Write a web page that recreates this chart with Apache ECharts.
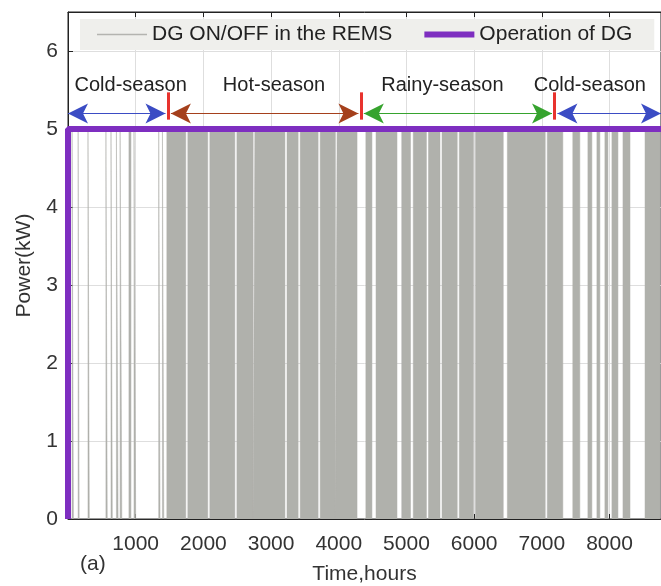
<!DOCTYPE html>
<html>
<head>
<meta charset="utf-8">
<script src="https://cdn.jsdelivr.net/npm/echarts@6/dist/echarts.min.js"></script>
<style>
  html, body { margin: 0; padding: 0; background: #fff; }
  #chart { width: 661px; height: 586px; }
</style>
</head>
<body>
<div id="chart"></div>
<script>
// DG ON periods (hours)
const dgOnIntervals = [
  [60, 80], [150, 165], [295, 315], [560, 580], [635, 655], [715, 740], [770, 795],
  [900, 930], [975, 1000], [1340, 1360], [1395, 1415],
  [1460, 1740], [1770, 2065], [2095, 2465], [2495, 2735], [2760, 3205], [3235, 3400],
  [3430, 3695], [3725, 3950], [3975, 4270],
  [4400, 4490], [4550, 4860], [4930, 5060], [5100, 5295], [5325, 5495], [5525, 5750],
  [5780, 5990], [6020, 6430], [6490, 7050], [7080, 7310],
  [7457, 7561], [7680, 7739], [7813, 7857], [7931, 7976], [8035, 8124], [8198, 8302],
  [8524, 8746]
];
const dgPower = 5;
const operationLine = [[0, 0], [0, 5], [8760, 5]];

const seasonNames = ['Cold-season', 'Hot-season', 'Rainy-season', 'Cold-season'];
const seasonLabelX = [926, 3043, 5531, 7709];
const seasonBounds = [0, 1480, 4330, 7190, 8760];
const seasonColors = ['#3b4cc4', '#a5401c', '#36a32e', '#3b4cc4'];

// build the on/off trace from the intervals
const onOffData = [[0, 0]];
dgOnIntervals.forEach(([s, e]) => {
  onOffData.push([s, 0], [s, dgPower], [e, dgPower], [e, 0]);
});
onOffData.push([8760, 0]);

const arrowY = 5.2;
const arrows = [];
for (let i = 0; i < 4; i++) {
  const a = seasonBounds[i] + (i === 0 ? 0 : 40);
  const b = seasonBounds[i + 1] - (i === 3 ? 0 : 40);
  arrows.push([
    { coord: [a, arrowY], lineStyle: { color: seasonColors[i], width: 1.2, type: 'solid' } },
    { coord: [b, arrowY] }
  ]);
}
const markers = seasonBounds.slice(1, 4).map(x => [
  { coord: [x, 5.12], symbol: 'none', lineStyle: { color: '#e8332e', width: 3, type: 'solid' } },
  { coord: [x, 5.47], symbol: 'none' }
]);

const font = 'Liberation Sans, Arial, sans-serif';
const chart = echarts.init(document.getElementById('chart'));

chart.setOption({
  animation: false,
  textStyle: { fontFamily: font },
  grid: {
    left: 68, right: 0, top: 12, bottom: 67,
    outerBoundsMode: 'none',
    show: true, borderColor: '#222', borderWidth: 1
  },
  legend: {
    data: [
      { name: 'DG ON/OFF in the REMS', icon: 'path://M0,0H50V1.5H0Z', symbolKeepAspect: true, itemStyle: { color: '#b4b4b0' } },
      { name: 'Operation of DG', icon: 'rect', itemStyle: { color: '#7e2ec0' } }
    ],
    left: 80,
    top: 19,
    padding: [5, 22, 5, 17],
    itemGap: 32,
    itemWidth: 50,
    itemHeight: 6,
    backgroundColor: '#efefec',
    textStyle: { fontSize: 21, color: '#222', fontFamily: font }
  },
  xAxis: [
    {
      type: 'value',
      min: 0,
      max: 8760,
      interval: 1000,
      name: 'Time,hours',
      nameLocation: 'middle',
      nameGap: 45,
      nameTextStyle: { fontSize: 21, color: '#333' },
      axisLine: { show: true, lineStyle: { color: '#222', width: 1 } },
      axisTick: { show: true, inside: true, length: 5, lineStyle: { color: '#222' } },
      axisLabel: { fontSize: 21, color: '#333', margin: 15, showMinLabel: false, showMaxLabel: false, formatter: v => String(v) },
      splitLine: { show: true, lineStyle: { color: '#dedede', width: 1 } }
    },
    {
      type: 'value',
      position: 'top',
      min: 0,
      max: 8760,
      interval: 1000,
      axisLine: { show: true, lineStyle: { color: '#222' } },
      axisTick: { show: true, inside: true, length: 5, lineStyle: { color: '#222' } },
      axisLabel: { show: false },
      splitLine: { show: false }
    }
  ],
  yAxis: {
    type: 'value',
    min: 0,
    max: 6.5,
    interval: 1,
    name: 'Power(kW)',
    nameLocation: 'middle',
    nameGap: 33,
    nameTextStyle: { fontSize: 21, color: '#333' },
    axisLine: { show: true, lineStyle: { color: '#222', width: 1 } },
    axisTick: { show: true, inside: true, length: 5, lineStyle: { color: '#222' } },
    axisLabel: { fontSize: 21, color: '#333', margin: 10, showMaxLabel: false },
    splitLine: { show: true, lineStyle: { color: '#dedede', width: 1 } }
  },
  series: [
    {
      name: 'DG ON/OFF in the REMS',
      type: 'line',
      data: onOffData,
      showSymbol: false,
      symbol: 'none',
      lineStyle: { color: '#b0b1ac', width: 0.5 },
      itemStyle: { color: '#b0b1ac' },
      areaStyle: { color: '#b0b1ac', opacity: 1 },
      z: 2
    },
    {
      name: 'Operation of DG',
      type: 'line',
      data: operationLine,
      showSymbol: false,
      symbol: 'none',
      clip: false,
      lineStyle: { color: '#7e2ec0', width: 6 },
      itemStyle: { color: '#7e2ec0' },
      z: 5,
      markLine: {
        silent: true,
        symbol: ['arrow', 'arrow'],
        symbolSize: [15, 20],
        label: { show: false },
        data: arrows.concat(markers)
      },
      markPoint: {
        symbol: 'circle',
        symbolSize: 0,
        label: {
          show: true,
          position: 'inside',
          formatter: '{b}',
          fontSize: 20,
          color: '#222',
          fontFamily: font
        },
        data: seasonNames.map((n, i) => ({ name: n, coord: [seasonLabelX[i], 5.56] }))
      }
    }
  ],
  graphic: [
    { type: 'text', left: 80, top: 554, style: { text: '(a)', fontSize: 21, fill: '#333', fontFamily: font } }
  ]
});
</script>
</body>
</html>
